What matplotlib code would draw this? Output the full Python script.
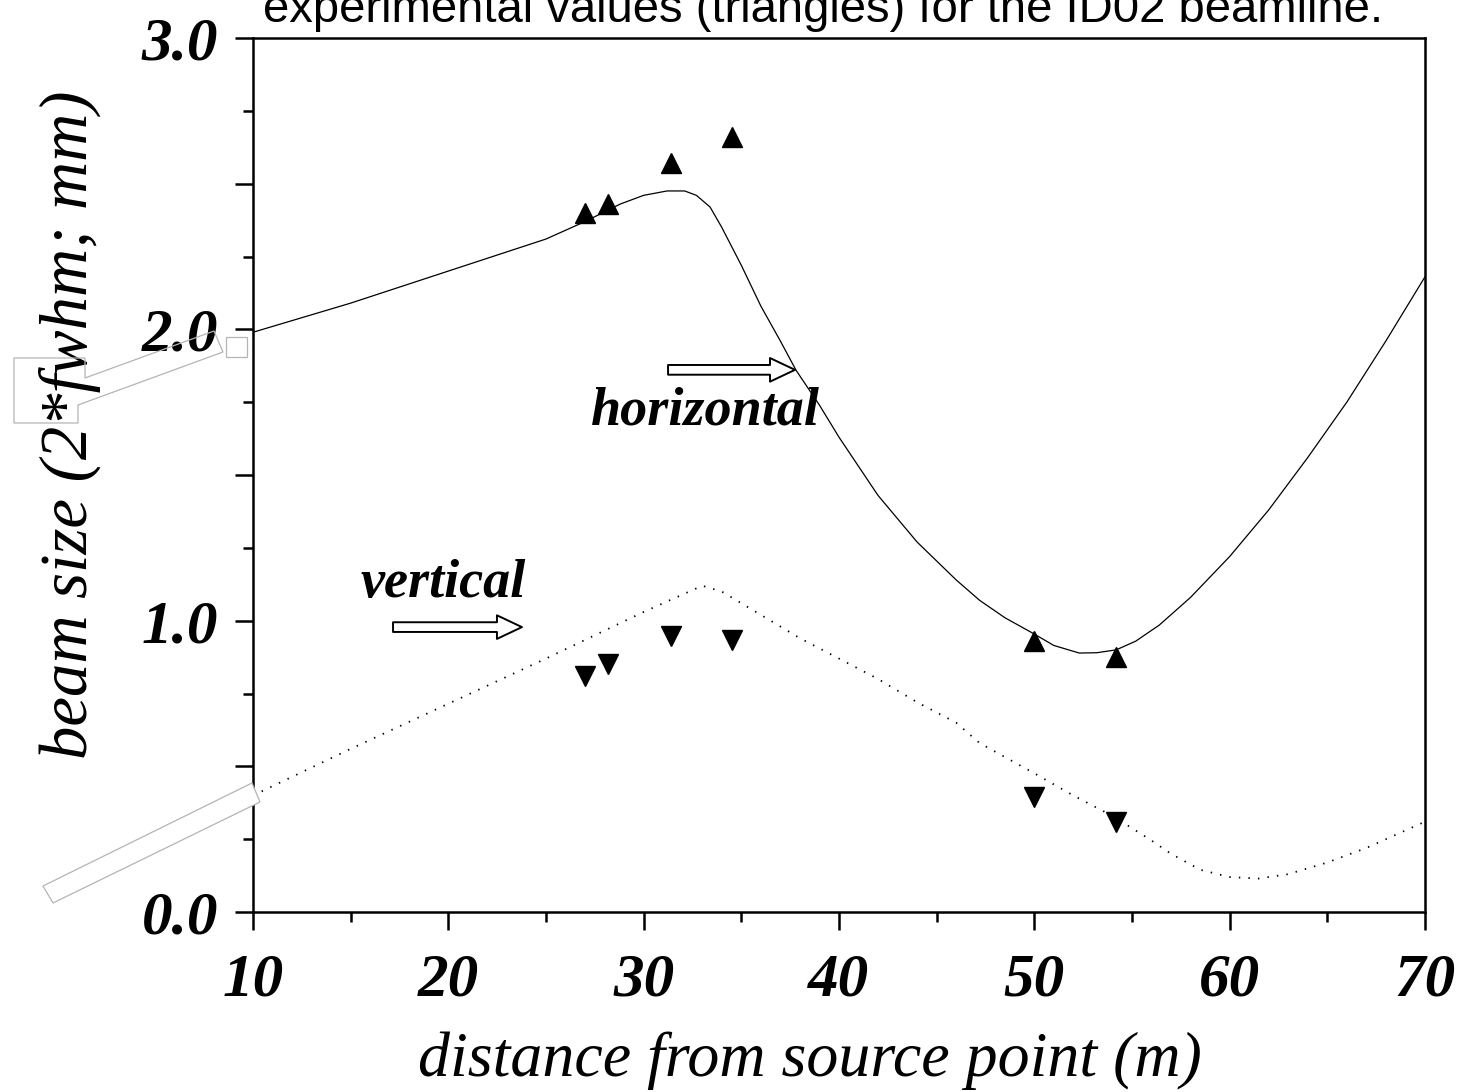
import numpy as np
import matplotlib
matplotlib.use("Agg")
import matplotlib.pyplot as plt
from matplotlib.ticker import MultipleLocator, FuncFormatter
from matplotlib.patches import Polygon

# calculated beam size, horizontal (solid line)
hor_x = [10, 15, 20, 25, 27, 28.8, 30, 31.2, 32.1, 32.7, 33.4, 34.0, 35.0, 36.0,
         37.0, 37.8, 39.0, 40.0, 42.0, 44.0, 46.0, 47.2, 48.5, 49.9, 51.0, 52.3,
         53.2, 54.2, 55.2, 56.4, 58.0, 60.0, 62.0, 64.0, 66.0, 68.0, 70.0]
hor_y = [1.99, 2.09, 2.20, 2.31, 2.37, 2.43, 2.46, 2.475, 2.475, 2.46, 2.42, 2.35,
         2.22, 2.08, 1.96, 1.86, 1.74, 1.63, 1.43, 1.27, 1.14, 1.07, 1.01, 0.958,
         0.915, 0.889, 0.89, 0.90, 0.93, 0.985, 1.08, 1.22, 1.38, 1.56, 1.75, 1.96, 2.18]

# calculated beam size, vertical (dotted line)
ver_x = [10, 15, 20, 25, 30, 32, 33, 34, 36, 38, 40, 42, 44, 46, 47.2, 49.9, 52,
         54, 55.9, 57, 58.5, 60, 61.5, 63, 65, 67, 70]
ver_y = [0.40, 0.56, 0.715, 0.87, 1.03, 1.09, 1.12, 1.10, 1.02, 0.94, 0.87, 0.80,
         0.72, 0.65, 0.58, 0.48, 0.40, 0.33, 0.25, 0.20, 0.145, 0.12, 0.115, 0.13,
         0.17, 0.22, 0.31]

# measured values
meas_x = [27.0, 28.2, 31.4, 34.5, 50.0, 54.2]
meas_hor = [2.40, 2.43, 2.57, 2.66, 0.93, 0.875]
meas_ver = [0.81, 0.85, 0.947, 0.934, 0.395, 0.31]

title = "experimental values (triangles) for the ID02 beamline."

fig = plt.figure(figsize=(14.76, 10.92), dpi=100)
fig.patch.set_facecolor('white')
ax = fig.add_axes([0.1714, 0.1648, 0.9654 - 0.1714, 0.9652 - 0.1648])

ax.plot(hor_x, hor_y, c='black', lw=0.9)
ax.plot(ver_x, ver_y, c='black', lw=1.3, linestyle=(0, (0.8, 4.5)))
ax.plot(meas_x, meas_hor, '^', c='black', ms=15, mec='black')
ax.plot(meas_x, meas_ver, 'v', c='black', ms=15, mec='black')

ax.set_xlim(10, 70)
ax.set_ylim(0, 3)

serif = 'Liberation Serif'
ax.xaxis.set_major_locator(MultipleLocator(10))
ax.xaxis.set_minor_locator(MultipleLocator(5))
ax.yaxis.set_major_locator(MultipleLocator(0.5))
ax.yaxis.set_minor_locator(MultipleLocator(0.25))
ax.yaxis.set_major_formatter(FuncFormatter(
    lambda v, p: "%.1f" % v if abs(v - round(v)) < 1e-6 else ""))
ax.tick_params(which='major', direction='out', length=13, width=1.8)
ax.tick_params(axis='y', which='major', pad=12)
ax.tick_params(axis='x', which='major', pad=16)
ax.tick_params(which='minor', direction='out', length=7, width=1.8)
for lab in ax.get_xticklabels() + ax.get_yticklabels():
    lab.set_family(serif)
    lab.set_style('italic')
    lab.set_weight('bold')
    lab.set_size(44)
for s in ax.spines.values():
    s.set_linewidth(1.8)

ax.set_xlabel('distance from source point (m)', family=serif, style='italic',
              fontsize=46, labelpad=17)
ax.xaxis.label.set_x(0.475)
ax.set_ylabel('beam size (2*fwhm; mm)', family=serif, style='italic',
              fontsize=48, labelpad=29)
ax.yaxis.label.set_y(0.557)

ax.text(33.14, 1.672, 'horizontal', family=serif, style='italic', weight='bold',
        fontsize=39, ha='center', va='baseline')
ax.text(19.73, 1.081, 'vertical', family=serif, style='italic', weight='bold',
        fontsize=39, ha='center', va='baseline')

arrow = dict(arrowstyle='simple,head_length=0.9,head_width=0.85,tail_width=0.35',
             mutation_scale=20, fc='white', ec='black', lw=1.4,
             shrinkA=0, shrinkB=0)
ax.annotate('', xy=(37.75, 1.861), xytext=(31.25, 1.861), arrowprops=arrow)
ax.annotate('', xy=(23.77, 0.978), xytext=(17.17, 0.978), arrowprops=arrow)

# cut-off title at the top
fig.text(0.5576, 1 - 22 / 1092, title, family='Liberation Sans', fontsize=34,
         ha='center', va='baseline')

# leftover gray callout outlines
W, H = 1476.0, 1092.0
def fpts(pts):
    return [(x / W, 1 - y / H) for x, y in pts]

gray = '#b4b4b4'
fig.add_artist(Polygon(fpts([(14, 358), (85, 358), (85, 378), (214, 331),
                             (223, 352), (78, 405), (78, 423), (14, 423)]),
                       closed=True, fill=False, ec=gray, lw=0.9,
                       transform=fig.transFigure))
fig.add_artist(Polygon(fpts([(226, 337), (247, 337), (247, 357), (226, 357)]),
                       closed=True, fill=True, fc='white', ec=gray, lw=0.9,
                       transform=fig.transFigure))
fig.add_artist(Polygon(fpts([(43, 886), (252, 783), (260, 802), (53, 903)]),
                       closed=True, fill=True, fc='white', ec=gray, lw=0.9,
                       transform=fig.transFigure))

fig.savefig('out.png', dpi=100, facecolor='white')
